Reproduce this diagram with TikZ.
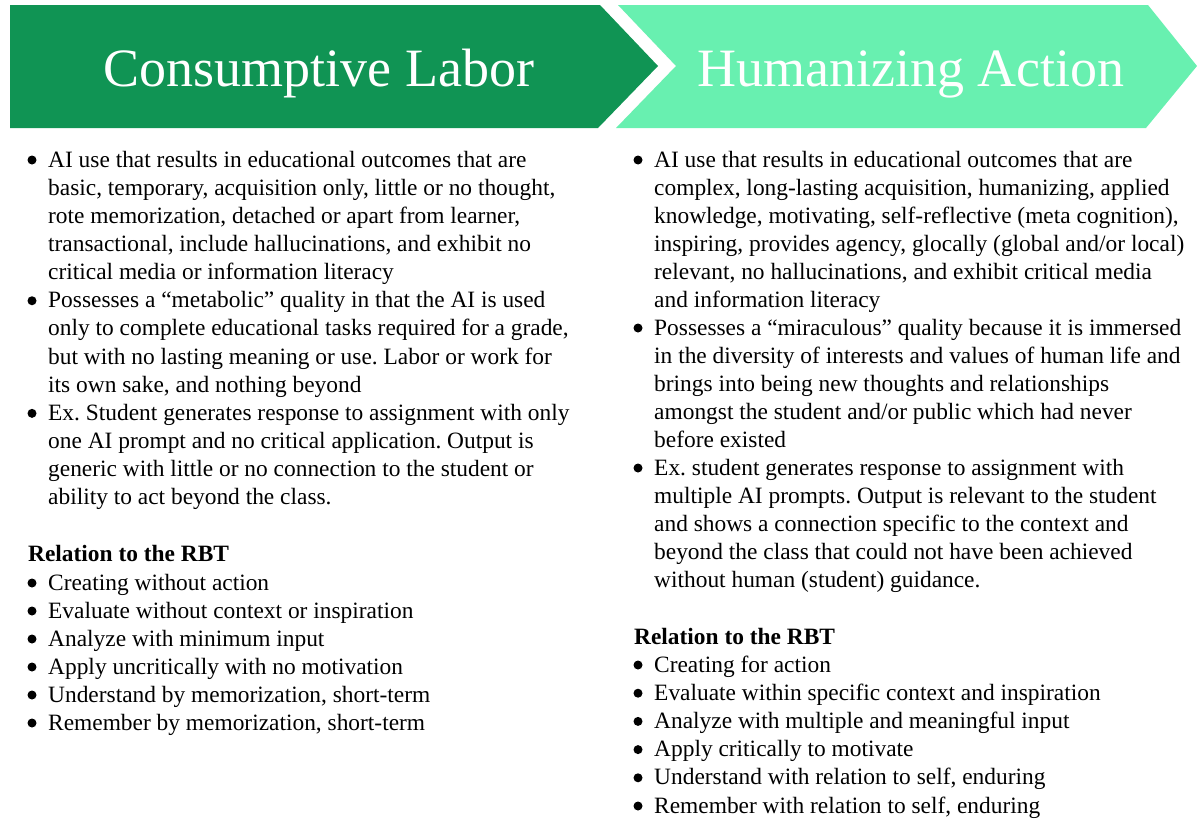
\documentclass[tikz,border=0pt]{standalone}
\usepackage{fontspec}
\setmainfont{Liberation Serif}
\frenchspacing
\definecolor{darkgr}{RGB}{16,148,84}
\definecolor{lightgr}{RGB}{104,240,176}
\tikzset{
  txt/.style={anchor=base west, inner sep=0pt, font=\fontsize{23.4}{28}\selectfont},
  hdtxt/.style={anchor=base west, inner sep=0pt, font=\fontsize{23.4}{28}\selectfont\bfseries},
  bul/.style={circle, fill=black, minimum size=9pt, inner sep=0pt},
  title/.style={text=white, inner sep=0pt, anchor=base, font=\fontsize{54}{60}\selectfont},
}
\begin{document}
\begin{tikzpicture}[x=1pt,y=-1pt]
\useasboundingbox (0,0) rectangle (1197,819);
\fill[white] (0,0) rectangle (1197,819);
% header chevrons
\fill[darkgr] (10,5) -- (600,5) -- (658,66) -- (598,128) -- (10,128) -- cycle;
\fill[lightgr] (618,5) -- (1148,5) -- (1197,66) -- (1146,128) -- (616,128) -- (676,66) -- cycle;
\node[title] (t1) at (319,86) {Consumptive Labor};
\node[title] (t2) at (911,86) {Humanizing Action};
% left column
\foreach \t [count=\i] in {
 {AI use that results in educational outcomes that are},
 {basic, temporary, acquisition only, little or no thought,},
 {rote memorization, detached or apart from learner,},
 {transactional, include hallucinations, and exhibit no},
 {critical media or information literacy},
 {Possesses a “metabolic” quality in that the AI is used},
 {only to complete educational tasks required for a grade,},
 {but with no lasting meaning or use. Labor or work for},
 {its own sake, and nothing beyond},
 {Ex. Student generates response to assignment with only},
 {one AI prompt and no critical application. Output is},
 {generic with little or no connection to the student or},
 {ability to act beyond the class.}}
 \node[txt] (l\i) at (48,{167+28.15*(\i-1)}) {\t};
\foreach \i in {1,6,10} \node[bul] (lb\i) at (32,{160+28.15*(\i-1)}) {};
\node[hdtxt] (lh) at (28,561) {Relation to the RBT};
\foreach \t [count=\i] in {
 {Creating without action},
 {Evaluate without context or inspiration},
 {Analyze with minimum input},
 {Apply uncritically with no motivation},
 {Understand by memorization, short-term},
 {Remember by memorization, short-term}}
 {\node[txt] (lr\i) at (48,{590+28*(\i-1)}) {\t};
  \node[bul] (lrb\i) at (32,{583+28*(\i-1)}) {};}
% right column
\foreach \t [count=\i] in {
 {AI use that results in educational outcomes that are},
 {complex, long-lasting acquisition, humanizing, applied},
 {knowledge, motivating, self-reflective (meta cognition),},
 {inspiring, provides agency, glocally (global and/or local)},
 {relevant, no hallucinations, and exhibit critical media},
 {and information literacy},
 {Possesses a “miraculous” quality because it is immersed},
 {in the diversity of interests and values of human life and},
 {brings into being new thoughts and relationships},
 {amongst the student and/or public which had never},
 {before existed},
 {Ex. student generates response to assignment with},
 {multiple AI prompts. Output is relevant to the student},
 {and shows a connection specific to the context and},
 {beyond the class that could not have been achieved},
 {without human (student) guidance.}}
 \node[txt] (r\i) at (654,{167+28*(\i-1)}) {\t};
\foreach \i in {1,7,12} \node[bul] (rb\i) at (638,{160+28*(\i-1)}) {};
\node[hdtxt] (rh) at (634,644) {Relation to the RBT};
\foreach \t [count=\i] in {
 {Creating for action},
 {Evaluate within specific context and inspiration},
 {Analyze with multiple and meaningful input},
 {Apply critically to motivate},
 {Understand with relation to self, enduring},
 {Remember with relation to self, enduring}}
 {\node[txt] (rr\i) at (654,{672+28.2*(\i-1)}) {\t};
  \node[bul] (rrb\i) at (638,{665+28.2*(\i-1)}) {};}
\end{tikzpicture}
\end{document}
